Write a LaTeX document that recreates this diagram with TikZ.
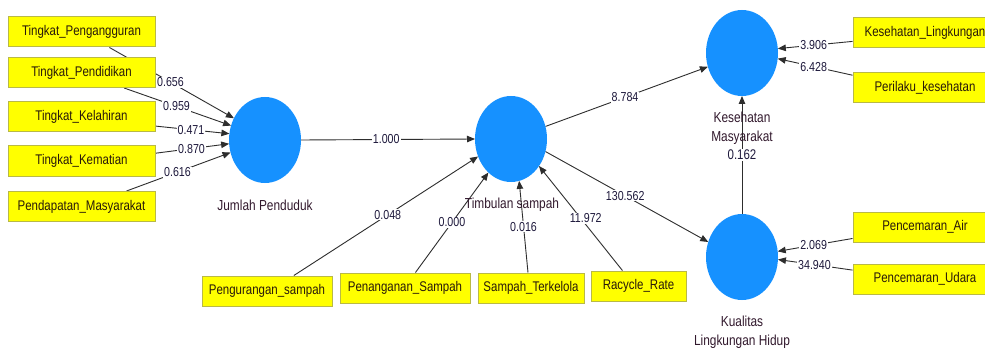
\documentclass[tikz,border=0pt]{standalone}
\usepackage{fontspec}
\setmainfont{Liberation Sans}[FakeStretch=0.82]
\usetikzlibrary{shapes.geometric,arrows.meta,backgrounds}
\definecolor{lvblue}{RGB}{22,145,255}
\definecolor{boxyellow}{RGB}{255,255,0}
\definecolor{boxborder}{RGB}{185,185,70}
\definecolor{txtdark}{RGB}{50,25,45}
\definecolor{boxtxt}{RGB}{40,25,10}
\definecolor{numtxt}{RGB}{30,25,60}
\definecolor{edgegray}{RGB}{45,45,45}
\tikzset{
  lv/.style={ellipse, fill=lvblue, minimum width=72pt, minimum height=86pt, inner sep=0pt, outer sep=0pt},
  ind/.style={rectangle, fill=boxyellow, draw=boxborder, line width=1pt, minimum height=30pt, inner sep=0pt, font=\fontsize{14}{16}\selectfont, text=boxtxt},
  lvlabel/.style={font=\fontsize{14.5}{19}\selectfont, text=txtdark, align=center},
  conn/.style={draw=edgegray, line width=0.9pt, -{Triangle[length=8pt,width=6.5pt]}},
  coef/.style={fill=white, inner sep=1pt, font=\fontsize{13}{15}\selectfont, text=numtxt},
}
\begin{document}
\begin{tikzpicture}[x=1pt,y=-1pt]
\useasboundingbox (0,0) rectangle (985,350);
\clip (0,0) rectangle (985,350);
% latent variables
\node[lv] (jp) at (265,140) {};
\node[lv] (ts) at (511,139) {};
\node[lv] (kes) at (742,53) {};
\node[lv] (kq) at (742,257) {};
% left indicators
\node[ind, minimum width=147pt] (i1) at (81.5,32) {Tingkat\_Pengangguran};
\node[ind, minimum width=147pt] (i2) at (81.5,72.5) {Tingkat\_Pendidikan};
\node[ind, minimum width=147pt] (i3) at (81.5,117) {Tingkat\_Kelahiran};
\node[ind, minimum width=147pt] (i4) at (81.5,161) {Tingkat\_Kematian};
\node[ind, minimum width=147pt] (i5) at (81.5,206.5) {Pendapatan\_Masyarakat};
% bottom indicators
\node[ind, minimum width=130pt] (b1) at (267,291) {Pengurangan\_sampah};
\node[ind, minimum width=130pt] (b2) at (405,288) {Penanganan\_Sampah};
\node[ind, minimum width=106pt] (b3) at (531,288) {Sampah\_Terkelola};
\node[ind, minimum width=95pt] (b4) at (638.5,286) {Racycle\_Rate};
% right indicators
\node[ind, minimum width=144pt] (r1) at (925,32.5) {Kesehatan\_Lingkungan};
\node[ind, minimum width=144pt] (r2) at (925,88) {Perilaku\_kesehatan};
\node[ind, minimum width=144pt] (r3) at (925,227) {Pencemaran\_Air};
\node[ind, minimum width=144pt] (r4) at (925,279) {Pencemaran\_Udara};
% connectors
\begin{scope}[on background layer]
\fill[white] (0,0) rectangle (985,350);
\draw[conn] (i1.331) -- node[coef,pos=.49]{0.656} (jp.145);
\draw[conn] (i2.340) -- node[coef,pos=.49]{0.959} (jp.157);
\draw[conn] (i3.353) -- node[coef,pos=.48]{0.471} (jp.170);
\draw[conn] (i4.6) -- node[coef,pos=.49]{0.870} (jp.186);
\draw[conn] (i5.19) -- node[coef,pos=.49]{0.616} (jp.200);
\draw[conn] (jp.east) -- node[coef,pos=.49]{1.000} (ts.west);
\draw[conn] (b1.30) -- node[coef,pos=.51]{0.048} (ts.208);
\draw[conn] (b2.56) -- node[coef,pos=.5]{0.000} (ts.236);
\draw[conn] (b3.101) -- node[coef,pos=.5]{0.016} (ts.281);
\draw[conn] (b4.136) -- node[coef,pos=.5,xshift=5pt]{11.972} (ts.316);
\draw[conn] (ts.20) -- node[coef,pos=.49]{8.784} (kes.202);
\draw[conn] (ts.340) -- node[coef,pos=.49]{130.562} (kq.156);
\draw[conn] (r1.187) -- node[coef,pos=.52]{3.906} (kes.7);
\draw[conn] (r2.170) -- node[coef,pos=.52]{6.428} (kes.351);
\draw[conn] (r3.189) -- node[coef,pos=.52]{2.069} (kq.9);
\draw[conn] (r4.173) -- node[coef,pos=.51]{34.940} (kq.356);
\draw[conn] (kq.north) -- (kes.south);
\end{scope}
% latent labels
\node[lvlabel] (ljp) at (265,205) {Jumlah Penduduk};
\node[lvlabel] (lts) at (512,205) {Timbulan sampah};
\node[lvlabel] (lkes) at (742,128.5) {Kesehatan\\Masyarakat};
\node[coef, font=\fontsize{14}{16}\selectfont] (rkes) at (742,155) {0.162};
\node[lvlabel] (lkq) at (742,332) {Kualitas\\Lingkungan Hidup};
\end{tikzpicture}
\end{document}
